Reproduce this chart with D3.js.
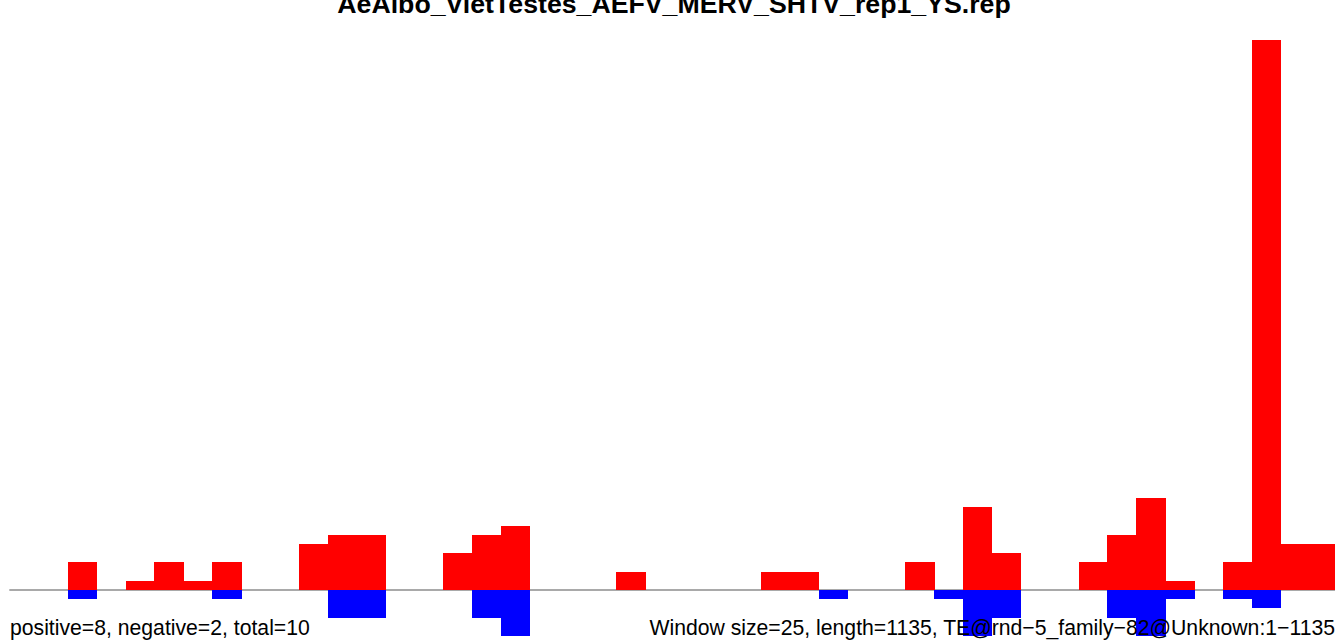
<!DOCTYPE html>
<html>
<head>
<meta charset="utf-8">
<script src="https://cdn.jsdelivr.net/npm/d3@7/dist/d3.min.js"></script>
<style>
html, body { margin: 0; padding: 0; background: #fff; overflow: hidden; }
svg { display: block; }
text { font-family: "Liberation Sans", Arial, Helvetica, sans-serif; }
</style>
</head>
<body>
<svg id="chart" width="1335" height="643"></svg>
<script>
// Data: 25-bp windows over a 1135-bp element (46 windows)
const titleText = "AeAlbo_VietTestes_AEFV_MERV_SHTV_rep1_YS.rep";
const leftNote = "positive=8, negative=2, total=10";
const rightNote = "Window size=25, length=1135, TE@rnd\u22125_family\u221282@Unknown:1\u22121135";
const windowSize = 25;
const seqLength = 1135;
const windowIndex = d3.range(Math.ceil(seqLength / windowSize));
// positive-strand coverage per window (only non-zero windows listed)
const positiveBins = [2, 4, 5, 6, 7, 10, 11, 12, 15, 16, 17, 21, 26, 27, 31, 33, 34, 37, 38, 39, 40, 42, 43, 44, 45];
const positiveVals = [3, 1, 3, 1, 3, 5, 6, 6, 4, 6, 7, 2, 2, 2, 3, 9, 4, 3, 6, 10, 1, 3, 60, 5, 5];
// negative-strand coverage per window
const negativeBins = [2, 7, 11, 12, 16, 17, 28, 32, 33, 34, 38, 39, 40, 42, 43];
const negativeVals = [1, 1, 3, 3, 3, 5, 1, 1, 5, 3, 3, 5, 1, 1, 2];

const svg = d3.select("#chart");

const x = d3.scaleBand()
  .domain(windowIndex)
  .range([10, 10 + windowIndex.length * 28.88])
  .padding(0);

const y = d3.scaleLinear()
  .domain([0, 60])
  .range([590, 39.5]);

// baseline
svg.append("line")
  .attr("x1", 9.3).attr("x2", 1335)
  .attr("y1", y(0)).attr("y2", y(0))
  .attr("stroke", "#555555")
  .attr("stroke-width", 1.2);

const pos = positiveBins.map((b, i) => ({ bin: b, v: positiveVals[i] }));
const neg = negativeBins.map((b, i) => ({ bin: b, v: negativeVals[i] }));

svg.append("g").attr("shape-rendering", "crispEdges")
  .selectAll("rect").data(pos).join("rect")
  .attr("x", d => x(d.bin))
  .attr("width", x.bandwidth() + 0.5)
  .attr("y", d => y(d.v))
  .attr("height", d => y(0) - y(d.v))
  .attr("fill", "#ff0000");

svg.append("g").attr("shape-rendering", "crispEdges")
  .selectAll("rect").data(neg).join("rect")
  .attr("x", d => x(d.bin))
  .attr("width", x.bandwidth() + 0.5)
  .attr("y", y(0))
  .attr("height", d => y(-d.v) - y(0))
  .attr("fill", "#0000ff");

// title (partly clipped at top)
svg.append("text")
  .attr("x", 674)
  .attr("y", 13)
  .attr("text-anchor", "middle")
  .attr("font-weight", "bold")
  .attr("font-size", 26.7)
  .attr("fill", "#000")
  .text(titleText);

svg.append("text")
  .attr("x", 10)
  .attr("y", 635)
  .attr("font-size", 21.2)
  .attr("fill", "#000")
  .text(leftNote);

svg.append("text")
  .attr("x", 1335)
  .attr("y", 635)
  .attr("text-anchor", "end")
  .attr("font-size", 21.2)
  .attr("fill", "#000")
  .text(rightNote);
</script>
</body>
</html>
